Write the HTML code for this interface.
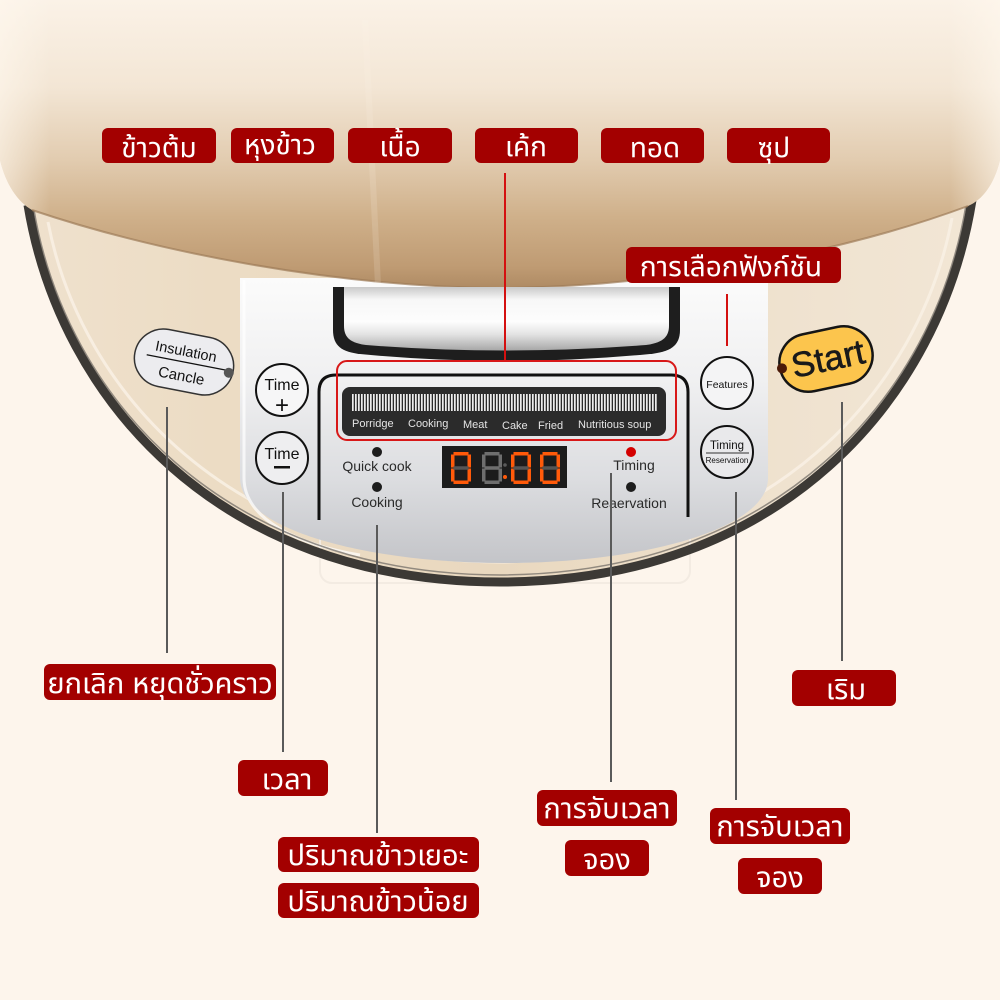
<!DOCTYPE html>
<html><head><meta charset="utf-8"><style>
html,body{margin:0;padding:0;background:#fdf5ec;}
svg{display:block;}
.th{font-family:"Liberation Sans","Noto Sans Thai","Noto Sans Thai UI","Tlwg Typist","Garuda","Loma","Waree","Norasi","DejaVu Sans",sans-serif;fill:#fff;font-size:28px;text-anchor:middle;}
.en{font-family:"Liberation Sans","DejaVu Sans",sans-serif;}
</style></head><body>
<svg width="1000" height="1000" viewBox="0 0 1000 1000" xmlns="http://www.w3.org/2000/svg">
<defs>
  <linearGradient id="lid" x1="0" y1="0" x2="0" y2="290" gradientUnits="userSpaceOnUse">
    <stop offset="0" stop-color="#fbf2e7"/>
    <stop offset="0.3" stop-color="#f3e6d5"/>
    <stop offset="0.55" stop-color="#e2ccb0"/>
    <stop offset="0.75" stop-color="#cfb08a"/>
    <stop offset="0.92" stop-color="#bf9b73"/>
    <stop offset="1" stop-color="#ad8962"/>
  </linearGradient>
  <linearGradient id="lidside" x1="0" y1="0" x2="1" y2="0">
    <stop offset="0" stop-color="#fff8ee" stop-opacity="0.6"/>
    <stop offset="0.05" stop-color="#fff8ee" stop-opacity="0"/>
    <stop offset="0.95" stop-color="#fff8ee" stop-opacity="0"/>
    <stop offset="1" stop-color="#fff8ee" stop-opacity="0.6"/>
  </linearGradient>
  <linearGradient id="face" x1="0" y1="0" x2="1" y2="0">
    <stop offset="0" stop-color="#efe1cd"/>
    <stop offset="0.2" stop-color="#ecdcc4"/>
    <stop offset="0.5" stop-color="#e9d8bf"/>
    <stop offset="0.8" stop-color="#efe2cf"/>
    <stop offset="1" stop-color="#f2e6d5"/>
  </linearGradient>
  <linearGradient id="silver" x1="0" y1="280" x2="0" y2="565" gradientUnits="userSpaceOnUse">
    <stop offset="0" stop-color="#fbfbfb"/>
    <stop offset="0.35" stop-color="#f0f0f1"/>
    <stop offset="0.7" stop-color="#dcdde0"/>
    <stop offset="1" stop-color="#c3c4c8"/>
  </linearGradient>
  <linearGradient id="handle" x1="0" y1="287" x2="0" y2="350" gradientUnits="userSpaceOnUse">
    <stop offset="0" stop-color="#c9c9c9"/>
    <stop offset="0.2" stop-color="#f7f7f7"/>
    <stop offset="0.55" stop-color="#fdfdfd"/>
    <stop offset="0.75" stop-color="#e3e3e3"/>
    <stop offset="1" stop-color="#a9a9a9"/>
  </linearGradient>
  <pattern id="ticks" x="352" y="0" width="3" height="20" patternUnits="userSpaceOnUse">
    <rect x="0" y="0" width="1.7" height="20" fill="#ececec"/>
  </pattern>
</defs>

<rect width="1000" height="1000" fill="#fdf5ec"/>

<!-- body face & ring -->
<path d="M28,200 C60,400 220,582 500,582 C780,582 940,400 972,195 Z" fill="url(#face)"/>
<path d="M48,222 C80,390 230,560 500,562 C770,560 920,390 952,218" fill="none" stroke="#f8efe3" stroke-width="3" opacity="0.9"/>
<rect x="320" y="515" width="370" height="68" rx="12" fill="none" stroke="#f3ebe2" stroke-width="2"/>

<!-- silver panel -->
<path d="M240,278 L768,278 L768,478 C768,530 640,563 504,563 C368,563 240,530 240,478 Z" fill="url(#silver)"/>
<path d="M244,280 L244,478 C244,520 300,545 360,555" fill="none" stroke="#ffffff" stroke-width="3" opacity="0.7"/>

<!-- ring -->
<path d="M28,205 C60,400 220,582 500,582 C780,582 940,400 972,200" fill="none" stroke="#3c3935" stroke-width="9"/>
<path d="M34,210 C66,398 224,574 500,575 C776,574 934,398 966,205" fill="none" stroke="#7a746d" stroke-width="1.5" opacity="0.8"/>

<!-- lid -->
<path d="M0,0 L1000,0 L1000,160 C994,185 982,200 968,206 C850,250 670,287 500,288 C330,287 150,250 32,210 C18,202 6,185 0,160 Z" fill="url(#lid)"/>
<path d="M0,0 L1000,0 L1000,160 C994,185 982,200 968,206 C850,250 670,287 500,288 C330,287 150,250 32,210 C18,202 6,185 0,160 Z" fill="url(#lidside)"/>
<path d="M32,210 C150,250 330,287 500,288 C670,287 850,250 968,206" fill="none" stroke="#9c7a57" stroke-width="2" opacity="0.7"/>
<path d="M365,20 L378,285" stroke="#fff6ea" stroke-width="6" opacity="0.15"/>

<!-- handle -->
<path d="M333,287 L680,287 L680,330 C680,346 670,352 650,354 Q505,368 360,354 C342,352 333,346 333,330 Z" fill="#1e1e1e"/>
<path d="M344,287 L669,287 L669,326 C669,338 661,343 646,345 Q505,356 366,345 C351,343 344,338 344,326 Z" fill="url(#handle)"/>

<!-- inner frame -->
<path d="M319,520 V392 Q319,375 336,375 H671 Q688,375 688,392 V517" fill="none" stroke="#111" stroke-width="3"/>

<!-- LCD -->
<rect x="342" y="387" width="324" height="49" rx="8" fill="#2b2b2b"/>
<rect x="352" y="394" width="305" height="17" fill="url(#ticks)"/>
<g class="en" font-size="11" fill="#e4e4e4">
  <text x="352" y="427">Porridge</text>
  <text x="408" y="427">Cooking</text>
  <text x="463" y="428">Meat</text>
  <text x="502" y="429">Cake</text>
  <text x="538" y="429">Fried</text>
  <text x="578" y="428">Nutritious soup</text>
</g>
<rect x="337" y="361" width="339" height="79" rx="10" fill="none" stroke="#d81818" stroke-width="2"/>
<line x1="505" y1="173" x2="505" y2="360" stroke="#d41010" stroke-width="2"/>
<line x1="727" y1="294" x2="727" y2="346" stroke="#d41010" stroke-width="2"/>

<!-- 7 seg display -->
<rect x="442" y="446" width="125" height="42" fill="#1c1c1c"/>
<g transform="translate(451,452)">
  <rect x="2.5" y="0" width="15" height="3.5" fill="#ff5a0a"/><rect x="16.5" y="2.5" width="3.5" height="13" fill="#ff5a0a"/><rect x="16.5" y="16.5" width="3.5" height="13" fill="#ff5a0a"/><rect x="2.5" y="28.5" width="15" height="3.5" fill="#ff5a0a"/><rect x="0" y="16.5" width="3.5" height="13" fill="#ff5a0a"/><rect x="0" y="2.5" width="3.5" height="13" fill="#ff5a0a"/><rect x="2.5" y="14.25" width="15" height="3.5" fill="#555"/>
</g>
<g transform="translate(482,452)" fill="#6e6e6e">
  <rect x="2.5" y="0" width="15" height="3.5"/><rect x="16.5" y="2.5" width="3.5" height="13"/><rect x="16.5" y="16.5" width="3.5" height="13"/><rect x="2.5" y="28.5" width="15" height="3.5"/><rect x="0" y="16.5" width="3.5" height="13"/><rect x="0" y="2.5" width="3.5" height="13"/><rect x="2.5" y="14.25" width="15" height="3.5"/>
</g>
<circle cx="505" cy="465" r="1.8" fill="#5a5a5a"/>
<circle cx="505" cy="477" r="2" fill="#ff5a0a"/>
<g transform="translate(511,452)">
  <rect x="2.5" y="0" width="15" height="3.5" fill="#ff5a0a"/><rect x="16.5" y="2.5" width="3.5" height="13" fill="#ff5a0a"/><rect x="16.5" y="16.5" width="3.5" height="13" fill="#ff5a0a"/><rect x="2.5" y="28.5" width="15" height="3.5" fill="#ff5a0a"/><rect x="0" y="16.5" width="3.5" height="13" fill="#ff5a0a"/><rect x="0" y="2.5" width="3.5" height="13" fill="#ff5a0a"/><rect x="2.5" y="14.25" width="15" height="3.5" fill="#555"/>
</g>
<g transform="translate(540,452)">
  <rect x="2.5" y="0" width="15" height="3.5" fill="#ff5a0a"/><rect x="16.5" y="2.5" width="3.5" height="13" fill="#ff5a0a"/><rect x="16.5" y="16.5" width="3.5" height="13" fill="#ff5a0a"/><rect x="2.5" y="28.5" width="15" height="3.5" fill="#ff5a0a"/><rect x="0" y="16.5" width="3.5" height="13" fill="#ff5a0a"/><rect x="0" y="2.5" width="3.5" height="13" fill="#ff5a0a"/><rect x="2.5" y="14.25" width="15" height="3.5" fill="#555"/>
</g>

<!-- indicator dots & labels -->
<circle cx="377" cy="452" r="5" fill="#1d1d1d"/>
<circle cx="377" cy="487" r="5" fill="#1d1d1d"/>
<circle cx="631" cy="452" r="5" fill="#d40000"/>
<circle cx="631" cy="487" r="5" fill="#1d1d1d"/>
<g class="en" font-size="14" fill="#2a2a2a" text-anchor="middle">
  <text x="377" y="471">Quick cook</text>
  <text x="377" y="507">Cooking</text>
  <text x="634" y="470">Timing</text>
  <text x="629" y="508">Reaervation</text>
</g>

<!-- Time buttons -->
<circle cx="282" cy="390" r="26" fill="#f6f6f7" stroke="#111" stroke-width="2"/>
<text class="en" x="282" y="390" font-size="16" text-anchor="middle" fill="#111">Time</text>
<text class="en" x="282" y="413" font-size="24" text-anchor="middle" fill="#111">+</text>
<circle cx="282" cy="458" r="26" fill="#eeeef0" stroke="#111" stroke-width="2"/>
<text class="en" x="282" y="459" font-size="16" text-anchor="middle" fill="#111">Time</text>
<rect x="274" y="466" width="16" height="2.5" fill="#111"/>

<!-- Features / Timing -->
<circle cx="727" cy="383" r="26" fill="#f4f4f5" stroke="#111" stroke-width="2"/>
<text class="en" x="727" y="388" font-size="10.5" text-anchor="middle" fill="#111">Features</text>
<circle cx="727" cy="452" r="26" fill="#e9e9eb" stroke="#111" stroke-width="2"/>
<text class="en" x="727" y="449" font-size="11.5" text-anchor="middle" fill="#111">Timing</text>
<line x1="706" y1="453" x2="749" y2="453" stroke="#333" stroke-width="1"/>
<text class="en" x="727" y="463" font-size="8" text-anchor="middle" fill="#111">Reservation</text>

<!-- Insulation pill -->
<g transform="translate(184,362) rotate(11)">
  <rect x="-50" y="-29" width="100" height="58" rx="29" fill="#ececef" stroke="#333" stroke-width="1.5"/>
  <text class="en" x="0" y="-6" font-size="14.5" text-anchor="middle" fill="#111">Insulation</text>
  <line x1="-38" y1="0" x2="42" y2="0" stroke="#111" stroke-width="1.3"/>
  <text class="en" x="0" y="19" font-size="15" text-anchor="middle" fill="#111">Cancle</text>
  <circle cx="46" cy="2" r="5" fill="#555"/>
</g>

<!-- Start pill -->
<g transform="translate(826,359) rotate(-12)">
  <rect x="-47" y="-29" width="94" height="58" rx="29" fill="#fcc54d" stroke="#151515" stroke-width="2.5"/>
  <text class="en" x="2" y="12" font-size="35" text-anchor="middle" fill="#1a1a1a" stroke="#1a1a1a" stroke-width="0.6">Start</text>
  <circle cx="-45" cy="0" r="5" fill="#4b1a08"/>
</g>

<!-- grey connector lines -->
<g stroke="#5a5a5a" stroke-width="2">
  <line x1="167" y1="407" x2="167" y2="653"/>
  <line x1="283" y1="492" x2="283" y2="752"/>
  <line x1="377" y1="525" x2="377" y2="833"/>
  <line x1="611" y1="473" x2="611" y2="782"/>
  <line x1="736" y1="492" x2="736" y2="800"/>
  <line x1="842" y1="402" x2="842" y2="661"/>
</g>

<!-- labels -->
<g fill="#a30000">
  <rect x="102" y="128" width="114" height="35" rx="6"/>
  <rect x="231" y="128" width="103" height="35" rx="6"/>
  <rect x="348" y="128" width="104" height="35" rx="6"/>
  <rect x="475" y="128" width="103" height="35" rx="6"/>
  <rect x="601" y="128" width="103" height="35" rx="6"/>
  <rect x="727" y="128" width="103" height="35" rx="6"/>
  <rect x="626" y="247" width="215" height="36" rx="6"/>
  <rect x="44" y="664" width="232" height="36" rx="6"/>
  <rect x="238" y="760" width="90" height="36" rx="6"/>
  <rect x="278" y="837" width="201" height="35" rx="6"/>
  <rect x="278" y="883" width="201" height="35" rx="6"/>
  <rect x="537" y="790" width="140" height="36" rx="6"/>
  <rect x="565" y="840" width="84" height="36" rx="6"/>
  <rect x="710" y="808" width="140" height="36" rx="6"/>
  <rect x="738" y="858" width="84" height="36" rx="6"/>
  <rect x="792" y="670" width="104" height="36" rx="6"/>
</g>
<g class="th">
  <text x="159" y="157">ข้าวต้ม</text>
  <text x="280" y="154">หุงข้าว</text>
  <text x="400" y="156">เนื้อ</text>
  <text x="526" y="156">เค้ก</text>
  <text x="655" y="157">ทอด</text>
  <text x="774" y="157">ซุป</text>
  <text x="731" y="276">การเลือกฟังก์ชัน</text>
</g>
<g class="th" font-size="29" style="font-size:29px">
  <text x="160" y="693">ยกเลิก หยุดชั่วคราว</text>
  <text x="287" y="789">เวลา</text>
  <text x="378" y="865">ปริมาณข้าวเยอะ</text>
  <text x="378" y="911">ปริมาณข้าวน้อย</text>
  <text x="607" y="818">การจับเวลา</text>
  <text x="607" y="869">จอง</text>
  <text x="780" y="836">การจับเวลา</text>
  <text x="780" y="887">จอง</text>
  <text x="846" y="699">เริม</text>
</g>
</svg>
</body></html>
